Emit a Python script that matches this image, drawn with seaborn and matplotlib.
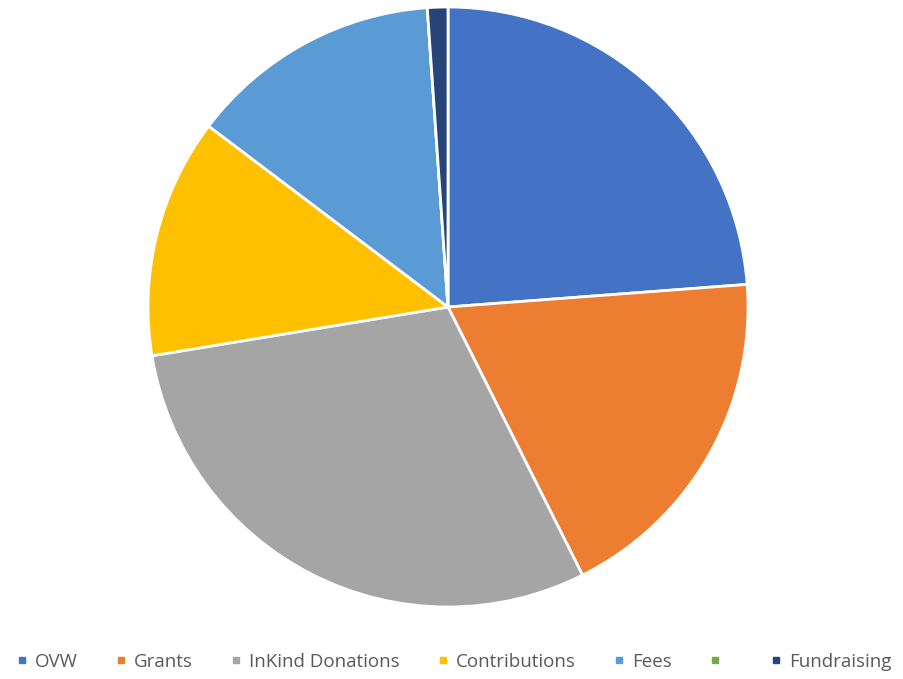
import matplotlib
matplotlib.use("Agg")
import matplotlib.pyplot as plt
import seaborn as sns
from matplotlib.lines import Line2D

# ---------------- DATA ----------------
labels = ["OVW", "Grants", "InKind Donations", "Contributions", "Fees", "", "Fundraising"]
shares = [23.8, 18.8, 29.8, 12.9, 13.6, 0.0, 1.1]
colors = ["#4472C4", "#ED7D31", "#A5A5A5", "#FFC000", "#5B9BD5", "#70AD47", "#264478"]

sns.set_theme(style="white")
plt.rcParams["font.family"] = ["Open Sans", "DejaVu Sans"]

fig = plt.figure(figsize=(9.04, 6.79), dpi=100)
ax = fig.add_axes([148 / 904, 72 / 679, 600 / 904, 600 / 679])

ax.pie(shares, colors=colors, startangle=90, counterclock=False, radius=1.0,
       wedgeprops=dict(edgecolor="white", linewidth=2.0))
ax.set_xlim(-1, 1); ax.set_ylim(-1, 1)
ax.set_aspect("equal")
ax.axis("off")

handles = [Line2D([0], [0], marker="s", linestyle="none", markersize=5,
                  markerfacecolor=c, markeredgecolor=c) for c in colors]
leg_labels = [l if l else " " for l in labels]
fig.legend(handles, leg_labels, loc="center", bbox_to_anchor=(454 / 904, 1 - 662 / 679),
           ncol=7, frameon=False, fontsize=13.5, handlelength=0.6, handletextpad=0.4,
           columnspacing=2.0, labelcolor="#595959")

fig.savefig("out.png", dpi=100)
